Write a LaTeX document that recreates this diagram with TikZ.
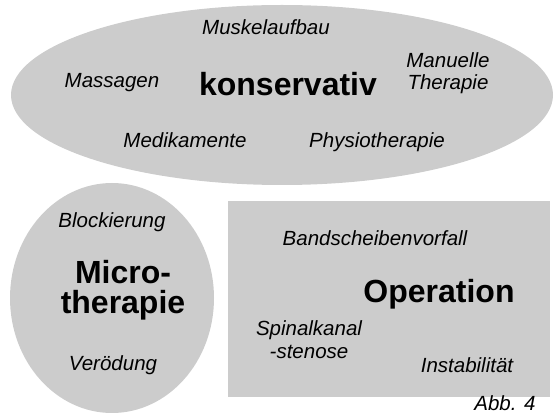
\documentclass[tikz,border=0pt]{standalone}
\usepackage{fontspec}
\setmainfont{Liberation Sans}
\usetikzlibrary{shapes.geometric}
\definecolor{blobgray}{RGB}{204,204,204}
\newlength{\du}
\setlength{\du}{1pt}
\tikzset{
  blob/.style={fill=blobgray, draw=none, inner sep=0pt},
  item/.style={font=\itshape\fontsize{20.5}{23}\selectfont, inner sep=0pt, anchor=base, align=center},
  title/.style={font=\bfseries\fontsize{32}{30}\selectfont, inner sep=0pt, anchor=base, align=center}
}
\begin{document}
\begin{tikzpicture}
\pgftransformxscale{1.000000}
\pgftransformyscale{-1.000000}
\useasboundingbox (0\du,0\du) rectangle (555\du,414\du);
% grey areas
\node[blob, ellipse, minimum width=542\du, minimum height=180\du] (konsEll) at (282\du,95\du){};
\node[blob, ellipse, minimum width=204\du, minimum height=230\du] (microEll) at (112\du,298\du){};
\node[blob, rectangle, minimum width=322\du, minimum height=196.3\du] (opRect) at (389\du,298.85\du){};
% konservativ
\node[title] (kons) at (288\du,96\du){konservativ};
\node[item] (muskel) at (266\du,35\du){Muskelaufbau};
\node[item] (massage) at (112\du,88\du){Massagen};
\node[item, font=\itshape\fontsize{20.5}{22}\selectfont] (manuell) at (448\du,90\du){Manuelle\\Therapie};
\node[item] (medi) at (185\du,148\du){Medikamente};
\node[item] (physio) at (377\du,148\du){Physiotherapie};
% Microtherapie
\node[title] (micro) at (123\du,314\du){Micro-\\therapie};
\node[item] (block) at (112\du,228\du){Blockierung};
\node[item] (veroed) at (113\du,371\du){Verödung};
% Operation
\node[title] (op) at (439\du,303\du){Operation};
\node[item] (band) at (375\du,246\du){Bandscheibenvorfall};
\node[item] (spinal) at (309\du,359\du){Spinalkanal\\-stenose};
\node[item] (instab) at (467\du,373\du){Instabilität};
\node[item] (abb) at (505\du,410\du){Abb. 4};
\end{tikzpicture}
\end{document}
